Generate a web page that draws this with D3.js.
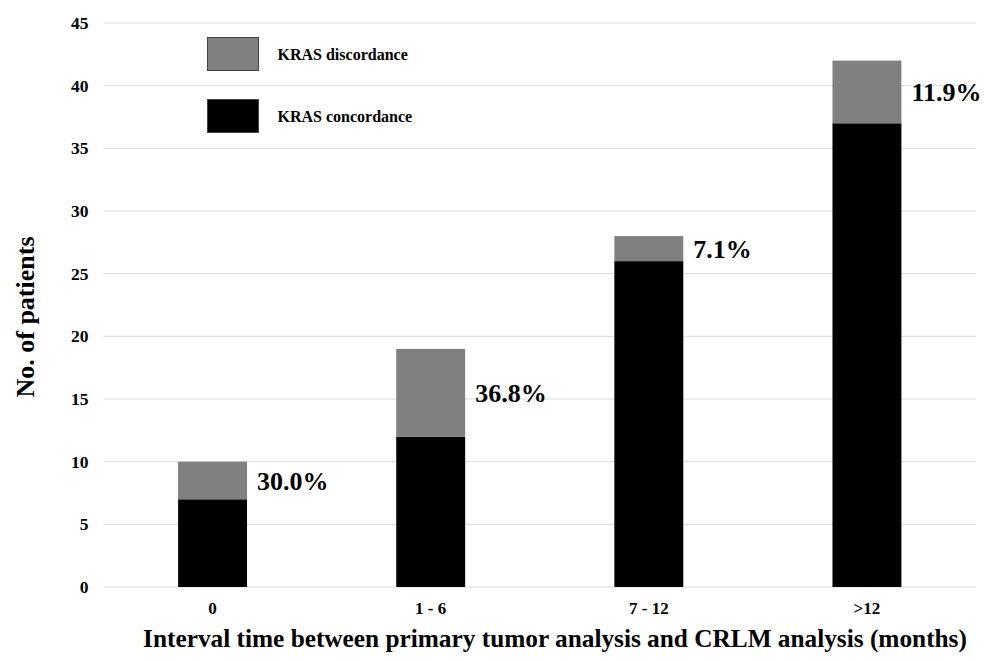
<!DOCTYPE html>
<html>
<head>
<meta charset="utf-8">
<script src="https://cdn.jsdelivr.net/npm/d3@7"></script>
<style>
    body { margin: 0; background: #fff; }
    svg text { font-family: "Liberation Serif", "Times New Roman", serif; font-weight: bold; fill: #000; }
</style>
</head>
<body>
<div class="chart"></div>
<script>
// data
const categories = ['0', '1 - 6', '7 - 12', '>12'];
const concordance = [7, 12, 26, 37];
const discordance = [3, 7, 2, 5];
const pctLabels = ['30.0%', '36.8%', '7.1%', '11.9%'];
const yTicks = [0, 5, 10, 15, 20, 25, 30, 35, 40, 45];
const seriesNames = ['KRAS discordance', 'KRAS concordance'];
const seriesColors = ['#808080', '#000000'];

const serif = '"Liberation Serif", "Times New Roman", serif';
const width = 984, height = 661;
const margin = { top: 23, right: 8, bottom: 74, left: 103.5 };

const svg = d3.select('.chart').append('svg')
    .attr('width', width)
    .attr('height', height);

const x = d3.scaleBand()
    .domain(categories)
    .range([margin.left, width - margin.right])
    .paddingInner(0.684)
    .paddingOuter(0.342);

const y = d3.scaleLinear()
    .domain([0, 45])
    .range([height - margin.bottom, margin.top]);

// gridlines
svg.append('g')
    .selectAll('line')
    .data(yTicks)
    .join('line')
    .attr('x1', margin.left)
    .attr('x2', width - margin.right)
    .attr('y1', d => y(d))
    .attr('y2', d => y(d))
    .attr('stroke', '#d9d9d9')
    .attr('stroke-width', 1);

// y tick labels
const yAxis = svg.append('g')
    .attr('transform', `translate(${margin.left},0)`)
    .attr('font-family', serif)
    .attr('font-size', 17.5)
    .call(d3.axisLeft(y).tickValues(yTicks).tickSize(0).tickPadding(15));
yAxis.select('.domain').remove();
yAxis.selectAll('text')
    .style('font-family', serif)
    .style('font-weight', 'bold')
    .style('font-size', '17.5px');

// x tick labels
const xAxis = svg.append('g')
    .attr('transform', `translate(0,${y(0)})`)
    .attr('font-family', serif)
    .attr('font-size', 17)
    .call(d3.axisBottom(x).tickSize(0).tickPadding(15));
xAxis.select('.domain').remove();
xAxis.selectAll('text')
    .style('font-family', serif)
    .style('font-weight', 'bold')
    .style('font-size', '17px');

// stacked bars
const stacked = categories.map((c, i) => ({ cat: c, conc: concordance[i], disc: discordance[i], label: pctLabels[i] }));

const bars = svg.append('g').selectAll('g')
    .data(stacked)
    .join('g');

bars.append('rect')
    .attr('x', d => x(d.cat))
    .attr('width', x.bandwidth())
    .attr('y', d => y(d.conc))
    .attr('height', d => y(0) - y(d.conc))
    .attr('fill', seriesColors[1]);

bars.append('rect')
    .attr('x', d => x(d.cat))
    .attr('width', x.bandwidth())
    .attr('y', d => y(d.conc + d.disc))
    .attr('height', d => y(d.conc) - y(d.conc + d.disc))
    .attr('fill', seriesColors[0]);

// percentage labels beside the discordance part
bars.append('text')
    .attr('x', d => x(d.cat) + x.bandwidth() + 10)
    .attr('y', d => y(d.conc + d.disc / 2))
    .attr('dy', '0.35em')
    .style('font-size', '26px')
    .text(d => d.label);

// legend
const legend = svg.append('g').selectAll('g')
    .data(seriesNames)
    .join('g')
    .attr('transform', (d, i) => `translate(207.5,${37.5 + i * 62})`);

legend.append('rect')
    .attr('width', 51)
    .attr('height', 33)
    .attr('fill', (d, i) => seriesColors[i])
    .attr('stroke', '#444')
    .attr('stroke-width', 1);

legend.append('text')
    .attr('x', 70)
    .attr('y', 17)
    .attr('dy', '0.35em')
    .style('font-size', '16px')
    .text(d => d);

// axis titles
svg.append('text')
    .attr('transform', `translate(34,${(margin.top + y(0)) / 2 + 12}) rotate(-90)`)
    .attr('text-anchor', 'middle')
    .style('font-size', '26px')
    .text('No. of patients');

svg.append('text')
    .attr('x', 555)
    .attr('y', 647)
    .attr('text-anchor', 'middle')
    .style('font-size', '25.3px')
    .text('Interval time between primary tumor analysis and CRLM analysis (months)');
</script>
</body>
</html>
